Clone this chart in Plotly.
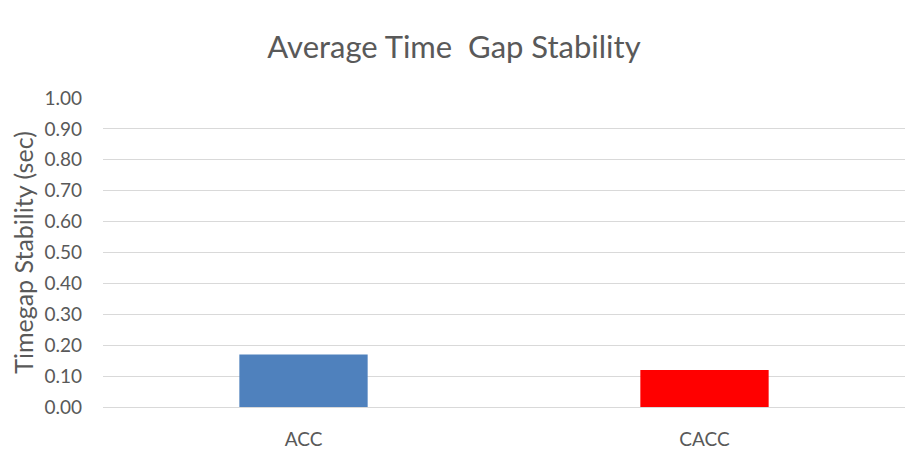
import plotly.graph_objects as go

categories = ["ACC", "CACC"]
values = [0.17, 0.12]
colors = ["#4F81BD", "#FF0000"]
tick_vals = [i / 10 for i in range(11)]
tick_text = [f"{v:.2f}" for v in tick_vals]

W, H = 914, 455  # page body adds an 8px margin

fig = go.Figure(go.Bar(x=categories, y=values, marker_color=colors, marker_line_width=0, width=0.32))

fig.update_layout(
    width=W, height=H,
    margin=dict(l=95, r=17, t=90, b=56),
    paper_bgcolor="white", plot_bgcolor="white",
    font=dict(family="Lato, Noto Sans, sans-serif", color="#595959", size=16),
    title=dict(text="Average Time  Gap Stability", x=(454 - 8) / W, xref="container", xanchor="center",
               y=1 - (47 - 8) / H, yanchor="middle",
               font=dict(size=31, color="#595959")),
    showlegend=False,
    bargap=0.68,
)
fig.update_yaxes(range=[0, 1.0], tickvals=tick_vals, ticktext=tick_text, showgrid=True, gridcolor="#D9D9D9",
                 gridwidth=1, zeroline=False, showline=False, ticks="", ticklabelstandoff=20,
                 tickfont=dict(size=19),
                 title=dict(text="Timegap Stability (sec)", font=dict(size=25, color="#595959"), standoff=6))
fig.update_xaxes(showline=True, linecolor="#D9D9D9", linewidth=1, ticks="", ticklabelstandoff=15,
                 tickfont=dict(size=19))

fig.write_html("out.html")
